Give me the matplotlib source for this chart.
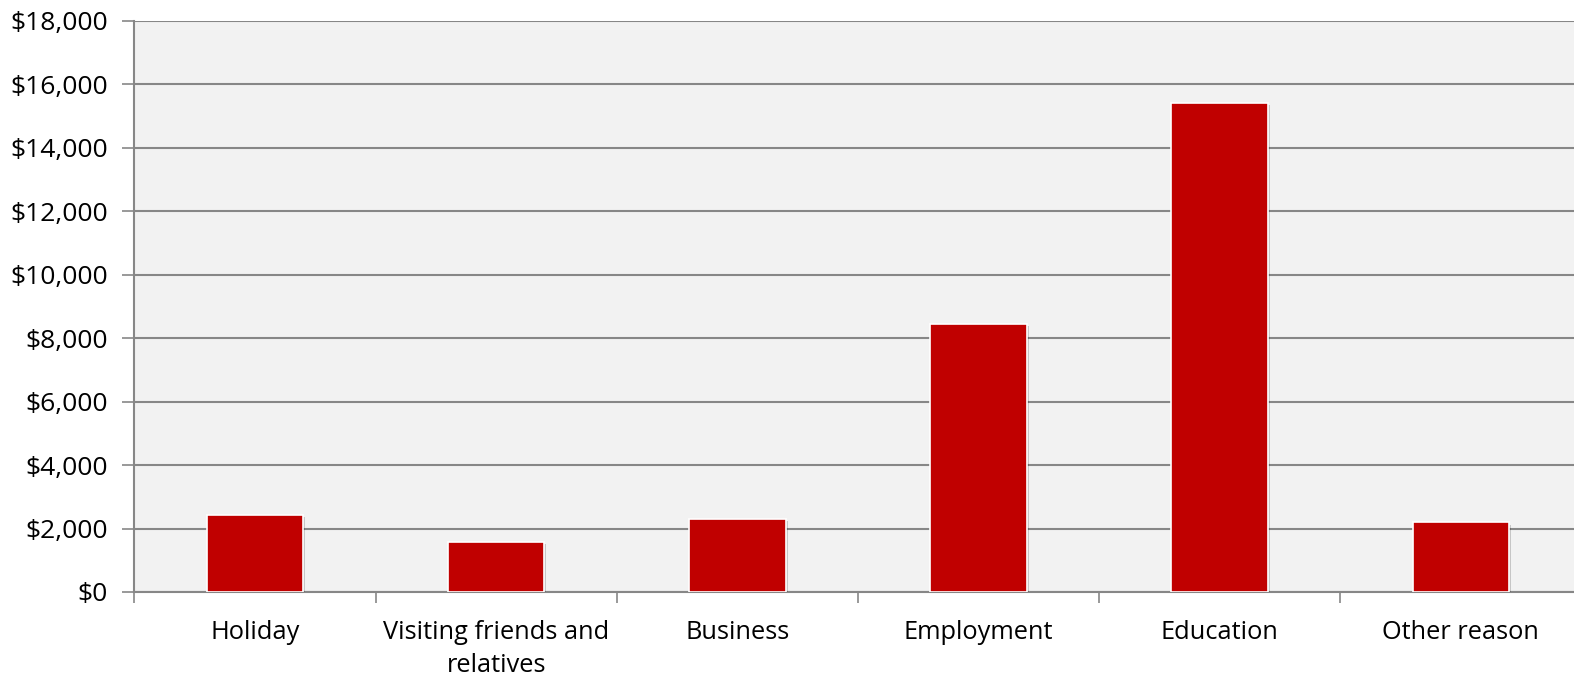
import numpy as np
import matplotlib
matplotlib.use("Agg")
import matplotlib.pyplot as plt
import matplotlib.patheffects as pe
from matplotlib.ticker import FuncFormatter, MultipleLocator

plt.rcParams["font.family"] = ["Open Sans", "DejaVu Sans"]

# spending by reason for visit
reasons = ["Holiday", "Visiting friends and\nrelatives", "Business",
           "Employment", "Education", "Other reason"]
spend = [2420, 1580, 2300, 8440, 15420, 2190]

BAR = "#C00000"
GRID = "#878787"
BG = "#F2F2F2"

fig = plt.figure(figsize=(15.74, 6.77), dpi=100, facecolor="white")
# plot area runs slightly past the right edge of the canvas
ax = fig.add_axes([0.0854, 0.1256, 0.9193, 0.8434])
ax.set_facecolor(BG)

x = np.arange(len(reasons))
bars = ax.bar(x, spend, width=0.4, color=BAR, edgecolor="white",
              linewidth=1.2, zorder=3)
for b in bars:
    b.set_path_effects([pe.SimplePatchShadow(offset=(1.5, -1.5), alpha=0.18,
                                             shadow_rgbFace="black"),
                        pe.Normal()])

ax.set_xlim(-0.5, len(reasons) - 0.5)
ax.set_ylim(0, 18000)
ax.yaxis.set_major_locator(MultipleLocator(2000))
ax.yaxis.set_major_formatter(FuncFormatter(lambda v, p: f"${v:,.0f}"))
ax.grid(axis="y", color=GRID, linewidth=1.5, zorder=0)

ax.set_xticks(x)
ax.set_xticklabels(reasons, fontsize=18.3, linespacing=1.45)
ax.set_xticks(np.arange(-0.5, len(reasons)), minor=True)
ax.tick_params(axis="x", which="major", length=0, pad=20)
ax.tick_params(axis="x", which="minor", length=8, width=1.2, color=GRID)
ax.tick_params(axis="y", length=9, width=1.2, color=GRID, labelsize=19, pad=10)

for s in ["top", "right"]:
    ax.spines[s].set_visible(False)
for s in ["left", "bottom"]:
    ax.spines[s].set_color(GRID)
    ax.spines[s].set_linewidth(1.5)

fig.savefig("out.png", dpi=100, facecolor="white")
